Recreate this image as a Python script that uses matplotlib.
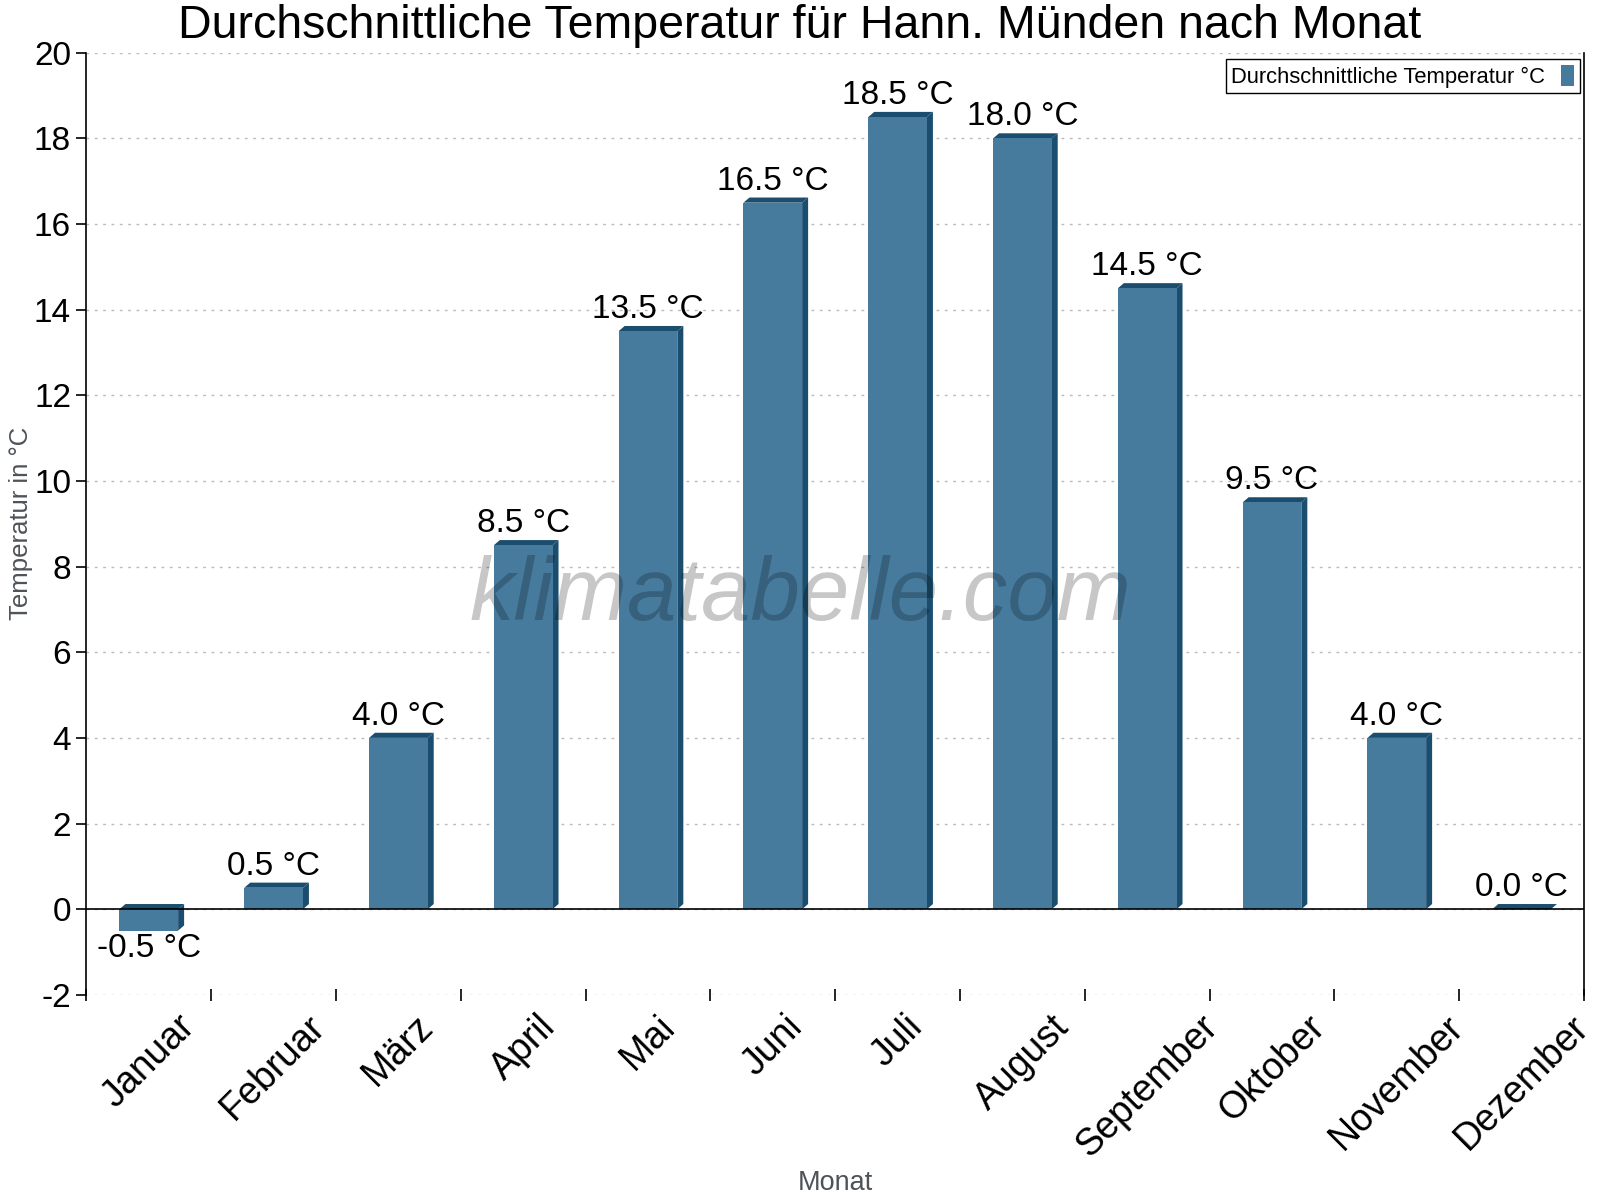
# Durchschnittliche Temperatur fuer Hann. Muenden - Balken mit 3D-Optik
import numpy as np
import matplotlib
matplotlib.use("Agg")
import matplotlib.pyplot as plt
from matplotlib.patches import Polygon

months = ["Januar", "Februar", "März", "April", "Mai", "Juni", "Juli",
          "August", "September", "Oktober", "November", "Dezember"]
temps = [-0.5, 0.5, 4.0, 8.5, 13.5, 16.5, 18.5, 18.0, 14.5, 9.5, 4.0, 0.0]
y_ticks = [-2, 0, 2, 4, 6, 8, 10, 12, 14, 16, 18, 20]

FRONT = "#467b9e"
DARK = "#1a4d6e"
LABEL_GREY = "#4d5358"

plt.rcParams["font.family"] = ["Liberation Sans", "DejaVu Sans"]

fig = plt.figure(figsize=(16, 12), dpi=100)
ax = fig.add_axes([0.054, 0.171, 0.936, 0.785])

x = np.arange(len(months))
width = 0.47
# depth of the fake 3d faces, in data units
dx = 0.048
dy = 0.12

ax.bar(x, temps, width=width, color=FRONT, zorder=3,
       label="Durchschnittliche Temperatur °C")

for xi, v in zip(x, temps):
    x0 = xi - width / 2
    x1 = xi + width / 2
    top = max(v, 0)
    base = min(v, 0)
    side = Polygon([(x1, base), (x1 + dx, base + dy), (x1 + dx, top + dy), (x1, top)],
                   closed=True, color=DARK, zorder=2, lw=0)
    lid = Polygon([(x0, top), (x0 + dx, top + dy), (x1 + dx, top + dy), (x1, top)],
                  closed=True, color=DARK, zorder=2, lw=0)
    ax.add_patch(side)
    ax.add_patch(lid)
    label = f"{v:.1f} °C"
    if v < 0:
        ax.annotate(label, (xi, v), xytext=(0, -2), textcoords="offset pixels",
                    ha="center", va="top", fontsize=24, zorder=5)
    else:
        ax.annotate(label, (xi, v + dy), xytext=(0, 1), textcoords="offset pixels",
                    ha="center", va="bottom", fontsize=24, zorder=5)

ax.axhline(0, color="black", lw=1.2, zorder=4)

ax.set_xlim(-0.5, len(months) - 0.5)
ax.set_ylim(-2, 20)
ax.set_yticks(y_ticks)
ax.set_yticklabels([str(t) for t in y_ticks], fontsize=24)
ax.yaxis.grid(True, linestyle=(0, (2, 4)), color="#bbbbbb", lw=1)
ax.set_axisbelow(True)

ax.set_xticks(x)
ax.set_xticklabels(months, rotation=45, ha="center", va="top", fontsize=27)
ax.set_xticks(np.arange(len(months) + 1) - 0.5, minor=True)
ax.tick_params(axis="x", which="major", length=0, pad=10)
ax.tick_params(axis="x", which="minor", direction="inout", length=9, width=1.2)
ax.tick_params(axis="y", direction="out", length=7, width=1.2, pad=4)

ax.spines["top"].set_visible(False)
ax.spines["bottom"].set_visible(False)
for s in ["left", "right"]:
    ax.spines[s].set_linewidth(1.2)

ax.set_xlabel("Monat", fontsize=19.5, color=LABEL_GREY, va="center")
ax.xaxis.set_label_coords(0.5, -0.2)
ax.set_ylabel("Temperatur in °C", fontsize=18.5, color=LABEL_GREY, va="center")
ax.yaxis.set_label_coords(-0.0435, 0.5)

fig.text(0.5, 0.997, "Durchschnittliche Temperatur für Hann. Münden nach Monat",
         ha="center", va="top", fontsize=33.5)

fig.text(0.5, 0.5025, "klimatabelle.com", ha="center", va="center",
         fontsize=64, style="italic", color="black", alpha=0.22, zorder=6)

leg = ax.legend(loc="upper right", bbox_to_anchor=(0.997, 0.993), fontsize=15.8,
                markerfirst=False, fancybox=False, edgecolor="black",
                framealpha=1, handlelength=0.6, handleheight=1.1,
                handletextpad=0.7, borderpad=0.25, borderaxespad=0)
leg.get_frame().set_linewidth(1)

fig.savefig("out.png", dpi=100)
